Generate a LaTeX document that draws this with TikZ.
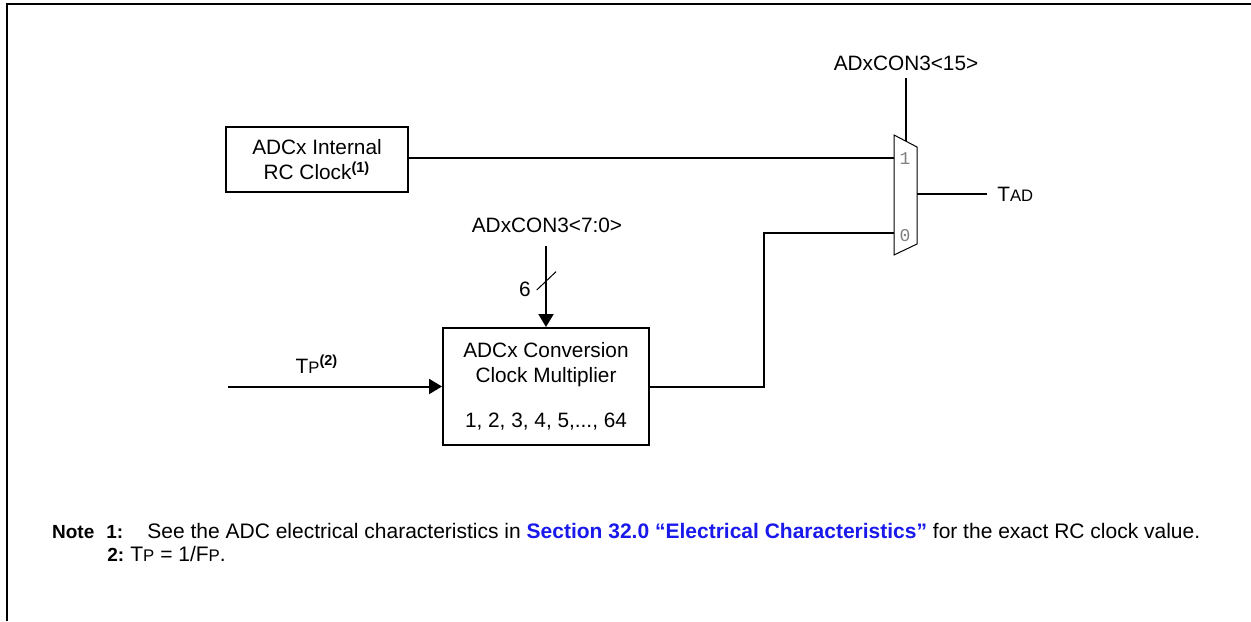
\documentclass[tikz,border=0pt]{standalone}
\usepackage{fontspec}
\setmainfont{Liberation Sans}
\setmonofont{Liberation Mono}
\usepackage{xcolor}
\usetikzlibrary{arrows.meta}

\definecolor{linkblue}{RGB}{25,25,235}
\newcommand{\smc}[1]{{\fontsize{0.8\dimexpr\fontdimen6\font\relax}{1em}\selectfont #1}}
\newcommand{\fnref}[1]{\textsuperscript{\textbf{(#1)}}}

\begin{document}
\begin{tikzpicture}[x=0.5pt, y=0.5pt, line join=miter,
    font=\fontsize{10.4}{12.5}\selectfont,
    wire/.style={line width=1pt},
    blk/.style={draw, line width=1pt, align=center, inner sep=0pt},
    pin/.style={font=\fontsize{9}{10}\selectfont\ttfamily, text=gray, inner sep=0pt},
    note/.style={font=\fontsize{10.5}{12}\selectfont, anchor=base west, inner sep=0pt},
    notenum/.style={font=\fontsize{9.5}{11}\selectfont\bfseries, anchor=base west, inner sep=0pt},
    tip/.style={-{Triangle[length=6.5pt,width=7.5pt]}}]
  \useasboundingbox (0,0) rectangle (1251,-621);
  % frame
  \draw[line width=1pt] (7,-621) -- (7,-4) -- (1251,-4);

  % mux
  \draw[line width=0.5pt] (894,-135) -- (917,-147) -- (917,-244) -- (894,-255) -- cycle;
  \coordinate (in1) at (894,-158);
  \coordinate (in0) at (894,-233);
  \coordinate (out) at (917,-194);
  \coordinate (sel) at (906,-141);
  \node[pin] (p1) at (905,-159) {1};
  \node[pin] (p0) at (905,-236) {0};

  % blocks
  \node[blk, minimum width=91pt, minimum height=32.5pt] (rcclk) at (317,-159.5)
    {ADCx Internal\\RC Clock\fnref{1}};
  \node[blk, minimum width=103pt, minimum height=58.5pt] (conv) at (546,-386.5)
    {ADCx Conversion\\Clock Multiplier\\[10pt]1, 2, 3, 4, 5,..., 64};

  % labels
  \node[anchor=south] (sel15) at (906,-78) {ADxCON3<15>};
  \node[anchor=south, inner ysep=6.5pt] (sel70) at (547,-246) {ADxCON3<7:0>};
  \node (bw) at (525,-289) {6};
  \node[anchor=base] (tplbl) at (317,-373) {T\smc{P}\fnref{2}};
  \node[anchor=west, inner xsep=5pt] (tad) at (987,-194) {T\smc{AD}};
  \coordinate (tpin) at (228,-386.5);

  % wires
  \draw[wire] (sel15.south) -- (sel);
  \draw[wire] (rcclk.east |- in1) -- (in1);
  \draw[wire, tip] (sel70.south -| conv.north) -- (conv.north);
  \draw[line width=0.5pt] (536.7,-290) -- (556,-271.7);
  \draw[wire, tip] (tpin) -- (conv.west);
  \draw[wire] (conv.east) -- ++(114,0) |- (in0);
  \draw[wire] (out) -- (tad.west);

  % notes
  \node[notenum] (n1) at (51.7,-538) {Note};
  \node[notenum] (n1num) at (106,-538) {1:};
  \node[note] (n1txt) at (147,-538) {See the ADC electrical characteristics in
    {\color{linkblue}\textbf{Section 32.0 “Electrical Characteristics”}} for the exact RC clock value.};
  \node[notenum] (n2num) at (107,-561) {2:};
  \node[note] (n2txt) at (130,-561) {T\smc{P} = 1/F\smc{P}.};
\end{tikzpicture}
\end{document}
